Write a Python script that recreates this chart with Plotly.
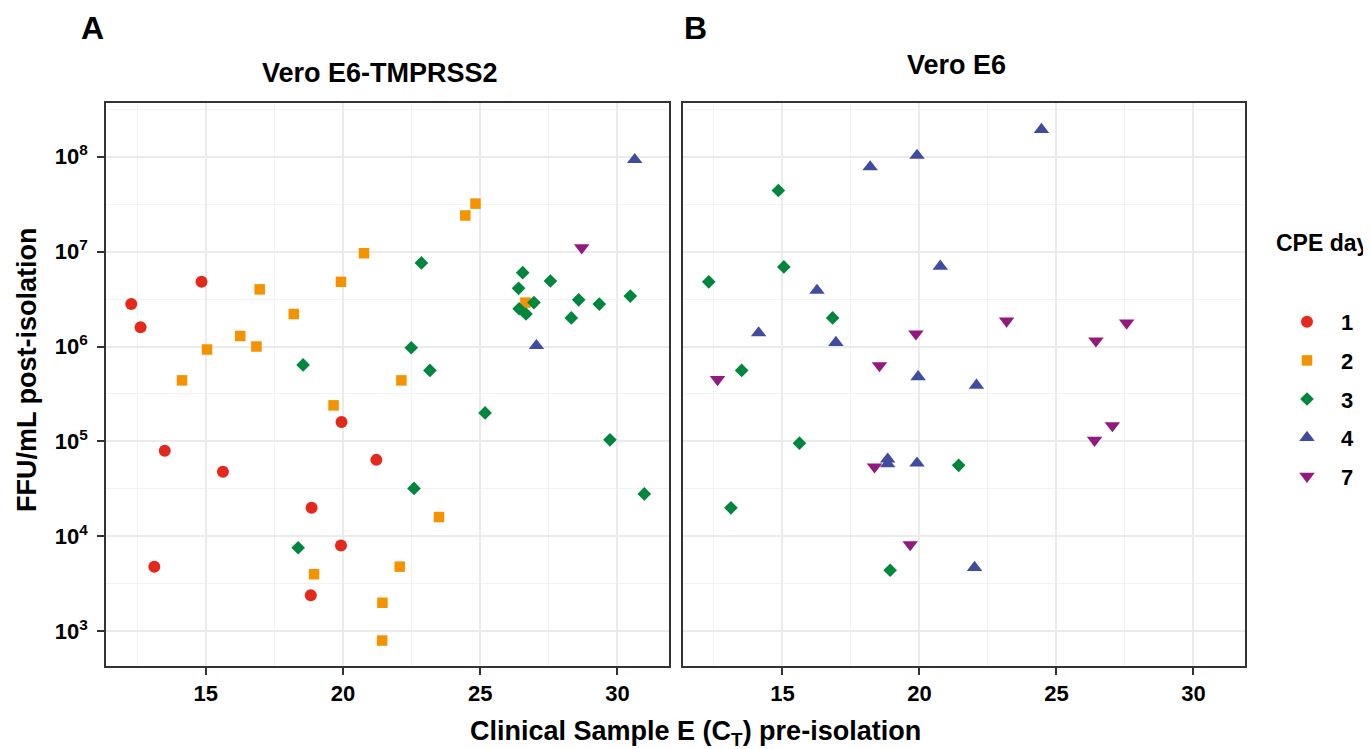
import plotly.graph_objects as go

# ---------------- data ----------------
cpe_days = ["1", "2", "3", "4", "7"]
colors = {"1": "#E4281B", "2": "#F49200", "3": "#00873D", "4": "#3F4C9F", "7": "#921A7E"}
symbols = {"1": "circle", "2": "square", "3": "diamond", "4": "triangle-up", "7": "triangle-down"}
sizes = {"1": 12, "2": 10.5, "3": 10.5, "4": 13.5, "7": 13.5}

# Panel A: Vero E6-TMPRSS2
a_ct_day1 = [12.29, 12.63, 14.85, 19.95, 13.51, 15.63, 21.22, 18.86, 19.93, 13.13, 18.83]
a_ffu_day1 = [2.8e6, 1.6e6, 4.8e6, 1.6e5, 8.0e4, 4.8e4, 6.4e4, 2.0e4, 8.0e3, 4.8e3, 2.4e3]

a_ct_day2 = [16.97, 18.21, 16.26, 16.85, 15.05, 14.14, 19.93, 20.77, 22.13, 19.66,
             18.95, 21.44, 21.43, 22.07, 23.50, 24.83, 24.46, 26.65]
a_ffu_day2 = [4.0e6, 2.2e6, 1.29e6, 1.0e6, 9.3e5, 4.4e5, 4.8e6, 9.6e6, 4.4e5, 2.4e5,
              4.0e3, 2.0e3, 8.0e2, 4.8e3, 1.6e4, 3.2e7, 2.4e7, 2.9e6]

a_ct_day3 = [18.55, 18.37, 22.86, 26.55, 27.56, 26.40, 26.96, 26.42, 26.67, 28.59,
             29.34, 30.47, 28.32, 22.49, 23.17, 25.18, 29.73, 22.59, 30.98]
a_ffu_day3 = [6.4e5, 7.6e3, 7.6e6, 6.0e6, 4.9e6, 4.1e6, 2.9e6, 2.5e6, 2.2e6, 3.1e6,
              2.8e6, 3.4e6, 2.0e6, 9.7e5, 5.6e5, 2.0e5, 1.04e5, 3.2e4, 2.8e4]

a_ct_day4 = [30.63, 27.05]
a_ffu_day4 = [9.3e7, 1.02e6]

a_ct_day7 = [28.70]
a_ffu_day7 = [1.1e7]

# Panel B: Vero E6
b_ct_day3 = [14.85, 12.31, 15.05, 16.83, 13.51, 15.62, 21.43, 13.12, 18.93]
b_ffu_day3 = [4.4e7, 4.8e6, 6.9e6, 2.0e6, 5.6e5, 9.6e4, 5.6e4, 2.0e4, 4.4e3]

b_ct_day4 = [18.20, 19.91, 20.76, 16.26, 14.13, 16.95, 19.95, 22.08, 18.84, 18.84,
             19.91, 22.01, 24.45]
b_ffu_day4 = [7.8e7, 1.03e8, 7.0e6, 3.9e6, 1.39e6, 1.1e6, 4.8e5, 3.9e5, 6.5e4, 5.8e4,
              5.9e4, 4.7e3, 1.93e8]

b_ct_day7 = [12.63, 19.87, 18.54, 18.36, 19.66, 23.18, 27.56, 26.44, 27.04, 26.39]
b_ffu_day7 = [4.5e5, 1.36e6, 6.3e5, 5.4e4, 8.2e3, 1.86e6, 1.77e6, 1.15e6, 1.47e5, 1.03e5]

x_ticks = [15, 20, 25, 30]
x_minor = [12.5, 17.5, 22.5, 27.5]
y_ticks = [1e3, 1e4, 1e5, 1e6, 1e7, 1e8]
y_ticktext = ["10<sup>3</sup>", "10<sup>4</sup>", "10<sup>5</sup>", "10<sup>6</sup>",
              "10<sup>7</sup>", "10<sup>8</sup>"]
y_minor = [10 ** 3.5, 10 ** 4.5, 10 ** 5.5, 10 ** 6.5, 10 ** 7.5, 10 ** 8.5]

panel_a = {"1": (a_ct_day1, a_ffu_day1), "2": (a_ct_day2, a_ffu_day2),
           "3": (a_ct_day3, a_ffu_day3), "4": (a_ct_day4, a_ffu_day4),
           "7": (a_ct_day7, a_ffu_day7)}
panel_b = {"3": (b_ct_day3, b_ffu_day3), "4": (b_ct_day4, b_ffu_day4),
           "7": (b_ct_day7, b_ffu_day7)}

FONT = "Liberation Sans, Arial, sans-serif"

# the page body has an 8px margin; the figure is sized to fit the window
OFF = 8
W, H = 1371 - OFF, 749 - OFF


def fx(px):
    return (px - OFF) / W


def fy(py):
    return 1 - (py - OFF) / H


fig = go.Figure()
for d in cpe_days:
    x, y = panel_a[d]
    fig.add_trace(go.Scatter(
        x=x, y=y, mode="markers", name=d, legendgroup=d, showlegend=True,
        marker=dict(symbol=symbols[d], color=colors[d], size=sizes[d], line=dict(width=0)),
        xaxis="x", yaxis="y"))
for d in cpe_days:
    if d not in panel_b:
        continue
    x, y = panel_b[d]
    fig.add_trace(go.Scatter(
        x=x, y=y, mode="markers", name=d, legendgroup=d, showlegend=False,
        marker=dict(symbol=symbols[d], color=colors[d], size=sizes[d], line=dict(width=0)),
        xaxis="x2", yaxis="y2"))

xr = [11.37, 31.88]
yr = [2.635, 8.565]
grid_major = "#EBEBEB"
grid_minor = "#F3F3F3"
border = "#333333"

common_x = dict(range=xr, tickvals=x_ticks, ticktext=[str(v) for v in x_ticks],
                showgrid=True, gridcolor=grid_major, gridwidth=1.6,
                minor=dict(tickvals=x_minor, showgrid=True, gridcolor=grid_minor,
                           gridwidth=0.9, ticklen=0),
                showline=True, linecolor=border, linewidth=1.5, mirror=True,
                ticks="outside", ticklen=7, tickwidth=1.5, tickcolor=border,
                tickfont=dict(family=FONT, size=22, color="#000000", weight="bold"),
                zeroline=False, fixedrange=True)
common_y = dict(type="log", range=yr, tickvals=y_ticks,
                showgrid=True, gridcolor=grid_major, gridwidth=1.6,
                minor=dict(tickvals=y_minor, showgrid=True, gridcolor=grid_minor,
                           gridwidth=0.9, ticklen=0),
                showline=True, linecolor=border, linewidth=1.5, mirror=True,
                zeroline=False, fixedrange=True,
                domain=[fy(666), fy(103)])

fig.update_layout(
    width=W, height=H,
    margin=dict(l=0, r=0, t=0, b=0),
    paper_bgcolor="white", plot_bgcolor="white",
    font=dict(family=FONT, color="#000000"),
    xaxis=dict(domain=[fx(106), fx(669)], anchor="y", **common_x),
    xaxis2=dict(domain=[fx(683), fx(1245)], anchor="y2", **common_x),
    yaxis=dict(anchor="x", ticktext=y_ticktext, ticks="outside", ticklen=7, tickwidth=1.5,
               tickcolor=border, ticklabelstandoff=5,
               tickfont=dict(family=FONT, size=22, color="#000000", weight="bold"),
               **common_y),
    yaxis2=dict(anchor="x2", showticklabels=False, ticks="", **common_y),
    legend=dict(
        x=fx(1282), y=fy(301), xanchor="left", yanchor="top",
        indentation=-9, itemwidth=58,
        font=dict(family=FONT, size=22, weight="bold"),
        tracegroupgap=7, itemsizing="trace", bgcolor="rgba(0,0,0,0)"),
    showlegend=True,
)

ann = [
    dict(text="A", x=fx(92), y=fy(28), font=dict(size=32, weight="bold")),
    dict(text="B", x=fx(695), y=fy(28), font=dict(size=32, weight="bold")),
    dict(text="Vero E6-TMPRSS2", x=fx(380), y=fy(73), font=dict(size=27, weight="bold")),
    dict(text="Vero E6", x=fx(956), y=fy(65), font=dict(size=27, weight="bold")),
    dict(text="Clinical Sample E (C<sub>T</sub>) pre-isolation", x=fx(695), y=fy(733),
         font=dict(size=27, weight="bold")),
    dict(text="FFU/mL post-isolation", x=fx(27), y=fy(370), textangle=-90,
         font=dict(size=27, weight="bold")),
    dict(text="CPE day", x=fx(1274), y=fy(243), xanchor="left",
         font=dict(size=23, weight="bold")),
]
for a in ann:
    a.setdefault("xanchor", "center")
    a.update(xref="paper", yref="paper", showarrow=False, yanchor="middle")
    a["font"].update(family=FONT, color="#000000")
fig.update_layout(annotations=ann)

fig.write_html("out.html")
